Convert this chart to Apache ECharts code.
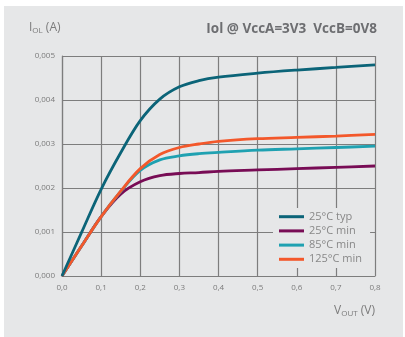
<!DOCTYPE html>
<html><head><meta charset="utf-8">
<script src="https://cdn.jsdelivr.net/npm/echarts@6/dist/echarts.min.js"></script>
<style>html,body{margin:0;padding:0;background:#fff}#main{width:405px;height:337px}</style>
</head><body><div id="main"></div>
<script>
const xTicks = [0,0.1,0.2,0.3,0.4,0.5,0.6,0.7,0.8];
const vout = [0,0.05,0.1,0.15,0.2,0.25,0.3,0.35,0.4,0.5,0.6,0.7,0.8];
const typ25 = [0,0.00099,0.00197,0.0028,0.00353,0.00402,0.0043,0.00444,0.00452,0.00461,0.00468,0.00474,0.0048];
const min25 = [0,0.00068,0.00135,0.00186,0.00214,0.00228,0.00233,0.00235,0.00238,0.00241,0.00244,0.00247,0.0025];
const min85 = [0,0.00068,0.00135,0.00192,0.0024,0.00264,0.00273,0.00278,0.00281,0.00286,0.00289,0.00292,0.00295];
const min125 = [0,0.00068,0.00135,0.00193,0.00244,0.00276,0.00292,0.003,0.00306,0.00312,0.00315,0.00318,0.00322];
const names = ['25°C typ','25°C min','85°C min','125°C min'];
const colors = ['#0b6478','#780c55','#1fa1b1','#f3582b'];
const values = [typ25,min25,min85,min125];

const FONT = '"Open Sans", sans-serif';
const chart = echarts.init(document.getElementById('main'));
const gridColor = '#7d7d7d';
const labRich = {b:{fontSize:12,fontFamily:FONT,fill:'#7b7b7b',verticalAlign:'bottom'}, s:{fontSize:8,fontFamily:FONT,fill:'#7b7b7b',verticalAlign:'bottom',padding:[0,0,-1,0]}};
chart.setOption({
  backgroundColor: 'transparent',
  animation: false,
  textStyle: {fontFamily: FONT},
  graphic: [
    {type:'rect', z:-100, shape:{x:4,y:6,width:399,height:331}, style:{fill:'#e6e7e8'}},
    {type:'text', left: 29, top: 22, style:{text:'{b|I}{s|OL}{b| (A)}', fill:'#7b7b7b', rich:labRich}},
    {type:'text', right: 30, top: 305, style:{text:'{b|V}{s|OUT}{b| (V)}', fill:'#7b7b7b', rich:labRich}},
    {type:'text', right: 28, top: 22, style:{
      text:'Iol @ VccA=3V3  VccB=0V8', fill:'#6d6e71', fontSize:13.5, fontWeight:'bold', fontFamily:FONT}}
  ],
  grid: {left:62, right:30, top:56, bottom:61, containLabel:false},
  legend: {
    orient:'vertical', left:273, top:208, padding:[3.2,8,3.2,6], itemGap:3.2,
    backgroundColor:'#e6e7e8', itemWidth:25, itemHeight:3, icon:'rect',
    textStyle:{color:'#888', fontSize:11, fontFamily:FONT},
    data:names
  },
  xAxis: {
    type:'value', min:0, max:0.8, interval:0.1,
    axisLine:{show:true, lineStyle:{color:gridColor,width:1.2}},
    axisTick:{show:false},
    splitLine:{show:true, lineStyle:{color:gridColor,width:1.2}},
    axisLabel:{color:'#7b7b7b', fontSize:8, margin:8, fontFamily:FONT,
      formatter:v=>v.toFixed(1).replace('.',',')}
  },
  yAxis: {
    type:'value', min:0, max:0.005, interval:0.001,
    axisLine:{show:true, lineStyle:{color:gridColor,width:1.2}},
    axisTick:{show:false},
    splitLine:{show:true, lineStyle:{color:gridColor,width:1.2}},
    axisLabel:{color:'#7b7b7b', fontSize:8, margin:7, fontFamily:FONT,
      formatter:v=>v.toFixed(3).replace('.',',')}
  },
  series: names.map((n,i)=>({
    name:n, type:'line', smooth:0.35, symbol:'none', color:colors[i],
    lineStyle:{width:2.8, color:colors[i]},
    z: i===0?5:(3+i*0.1),
    data: vout.map((x,j)=>[x, values[i][j]])
  }))
});
</script></body></html>
